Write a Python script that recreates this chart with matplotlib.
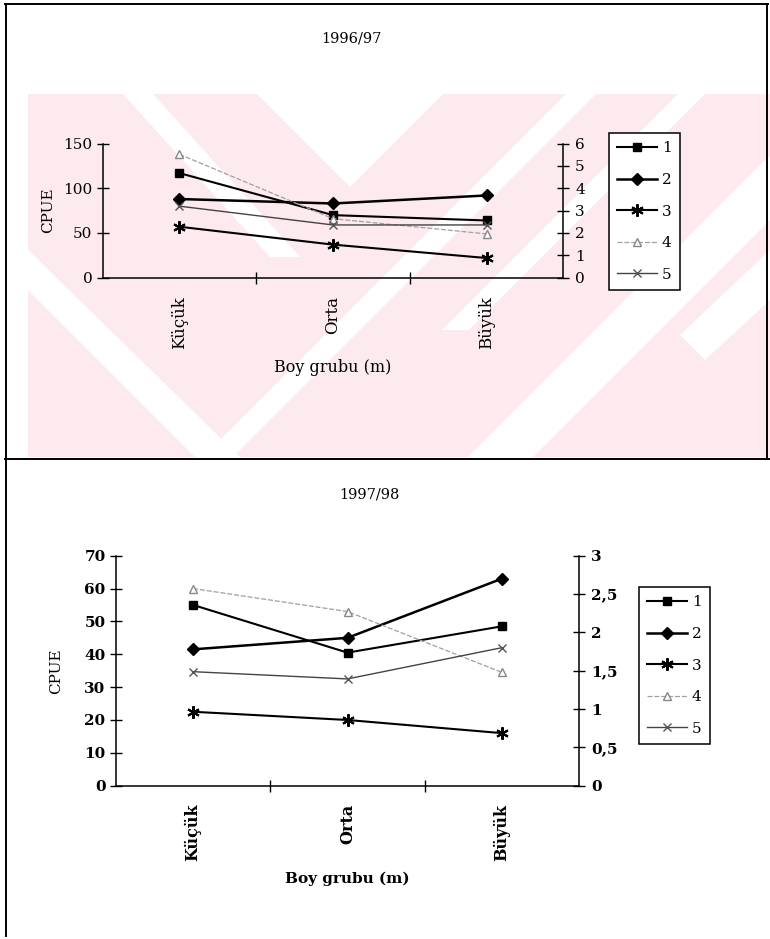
import numpy as np
import matplotlib
matplotlib.use("Agg")
import matplotlib.pyplot as plt
from matplotlib.lines import Line2D
from matplotlib.patches import Polygon, Rectangle
from matplotlib.ticker import FuncFormatter

plt.rcParams['font.family'] = ['DejaVu Serif']

# Boy grubu kategorileri
kategoriler = ['Küçük', 'Orta', 'Büyük']
seri_adlari = ['1', '2', '3', '4', '5']

# 1996/97 CPUE degerleri
cpue_9697 = {
    '1': [117, 70, 64],
    '2': [88, 83, 92],
    '3': [57, 37, 22],
    '4': [138, 66, 49],
    '5': [80, 59, 59],
}

# 1997/98 CPUE degerleri
cpue_9798 = {
    '1': [55, 40.5, 48.5],
    '2': [41.5, 45, 63],
    '3': [22.5, 20, 16],
    '4': [60, 53, 34.5],
    '5': [34.7, 32.5, 42],
}

# cizgi stilleri (Excel benzeri)
stiller = {
    '1': dict(color='black', lw=1.5, marker='s', ms=6, mfc='black', mec='black'),
    '2': dict(color='black', lw=1.8, marker='D', ms=6, mfc='black', mec='black'),
    '3': dict(color='black', lw=1.5, marker=(6, 2, 0), ms=9, mec='black', mew=1.5),
    '4': dict(color='#a0a0a0', lw=0.9, ls=(0, (4, 1.5)), marker='^', ms=6,
              mfc='white', mec='#888888'),
    '5': dict(color='#444444', lw=1.0, marker='x', ms=6, mec='#555555', mew=1.0),
}

W, H = 770, 939
fig = plt.figure(figsize=(W / 100, H / 100), dpi=100)
fig.patch.set_facecolor('white')


def fx(x):
    return x / W


def fy(y):
    return 1 - y / H


# --- pembe filigran (yaklasik) ---
pembe = '#fdeaee'
bolge = Rectangle((fx(28), fy(457)), fx(770) - fx(28), fy(94) - fy(457),
                  transform=fig.transFigure, facecolor=pembe, edgecolor='none',
                  zorder=-3)
fig.add_artist(bolge)
beyaz_seritler = [
    [(123, 94), (153, 94), (300, 257), (270, 257)],
    [(257, 94), (443, 94), (350, 187)],
    [(660 - 94, 94), (690 - 94, 94), (690 - 457, 457), (660 - 457, 457)],
    [(772 - 94, 94), (799 - 94, 94), (799 - 330, 330), (772 - 330, 330)],
    [(925 - 157, 157), (990 - 157, 157), (990 - 457, 457), (925 - 457, 457)],
    [(770, 250), (770, 300), (705, 360), (680, 335)],
    [(28, 250), (28, 290), (195, 457), (240, 457)],
]
for s in beyaz_seritler:
    p = Polygon([(fx(a), fy(b)) for a, b in s], closed=True,
                transform=fig.transFigure, facecolor='white', edgecolor='none',
                zorder=-2)
    p.set_clip_path(bolge)
    fig.add_artist(p)

# --- cerceve cizgileri ---
for (x0, y0, x1, y1) in [(5, 4, 768, 4), (6, 4, 6, 936), (767, 4, 767, 459),
                          (5, 459, 770, 459)]:
    fig.add_artist(Line2D([fx(x0), fx(x1)], [fy(y0), fy(y1)],
                          transform=fig.transFigure, color='black', lw=1.4))


def grafik(konum, veri, ymax, ystep, sag_max, sag_step, bold, baslik, baslik_xy,
           ylab_x, xlab_y, leg_xy, sag_fmt):
    x0, x1, ytop, ybot = konum
    ax = fig.add_axes([fx(x0), fy(ybot), fx(x1) - fx(x0), fy(ytop) - fy(ybot)])
    ax.patch.set_alpha(0)
    fw = 'bold' if bold else 'normal'
    xs = np.arange(len(kategoriler))
    for ad in seri_adlari:
        ax.plot(xs, veri[ad], label=ad, clip_on=False, **stiller[ad])
    ax.set_xlim(-0.5, len(kategoriler) - 0.5)
    ax.set_ylim(0, ymax)
    ax.set_yticks(np.arange(0, ymax + 0.01, ystep))
    ax.set_xticks([0.5, 1.5])
    ax.set_xticks(xs, minor=True)
    ax.set_xticklabels([], minor=False)
    ax.set_xticklabels(kategoriler, minor=True, rotation=90,
                       fontsize=11.5 if bold else 12, fontweight=fw)
    ax.tick_params(axis='x', which='major', direction='inout', length=9, width=1)
    ax.tick_params(axis='x', which='minor', length=0, pad=13)
    ax.tick_params(axis='y', direction='inout', length=9, width=1, pad=3,
                   labelsize=11)
    for t in ax.get_yticklabels():
        t.set_fontweight(fw)
    for k in ['top', 'right']:
        ax.spines[k].set_visible(False)
    for k in ['left', 'bottom']:
        ax.spines[k].set_linewidth(1.1)
    ax.set_ylabel('CPUE', fontsize=11)
    ax.yaxis.set_label_coords(ylab_x, 0.5)
    ax.set_xlabel('Boy grubu (m)', fontsize=11.5 if not bold else 11,
                  fontweight=fw)
    ax.xaxis.set_label_coords(0.5, xlab_y)

    ax2 = ax.twinx()
    ax2.set_ylim(0, sag_max)
    ax2.set_yticks(np.arange(0, sag_max + 0.001, sag_step))
    ax2.yaxis.set_major_formatter(FuncFormatter(sag_fmt))
    ax2.tick_params(axis='y', direction='inout', length=9, width=1, pad=4,
                    labelsize=11)
    for t in ax2.get_yticklabels():
        t.set_fontweight(fw)
    for k in ['top', 'left', 'bottom']:
        ax2.spines[k].set_visible(False)
    ax2.spines['right'].set_linewidth(1.1)

    leg = ax.legend(loc='upper left', bbox_to_anchor=(fx(leg_xy[0]), fy(leg_xy[1])),
                    bbox_transform=fig.transFigure, borderaxespad=0,
                    fancybox=False, framealpha=1, edgecolor='black',
                    fontsize=11, handlelength=2.6, handletextpad=0.3,
                    labelspacing=1.15, borderpad=0.55)
    leg.get_frame().set_linewidth(1.1)
    fig.text(fx(baslik_xy[0]), fy(baslik_xy[1]), baslik, ha='center', va='center',
             fontsize=10.5)
    return ax


grafik((102.7, 563.3, 143.6, 277.7), cpue_9697, 150, 50, 6, 1, False, '1996/97',
       (351, 38), -0.104, -0.606, (609, 133),
       lambda v, p: f'{v:.0f}')

grafik((116, 579, 555.7, 785.7), cpue_9798, 70, 10, 3, 0.5, True, '1997/98',
       (369, 495), -0.114, -0.375, (639, 587),
       lambda v, p: (f'{v:.1f}'.replace('.', ',') if v % 1 else f'{v:.0f}'))

fig.savefig('out.png', dpi=100)
